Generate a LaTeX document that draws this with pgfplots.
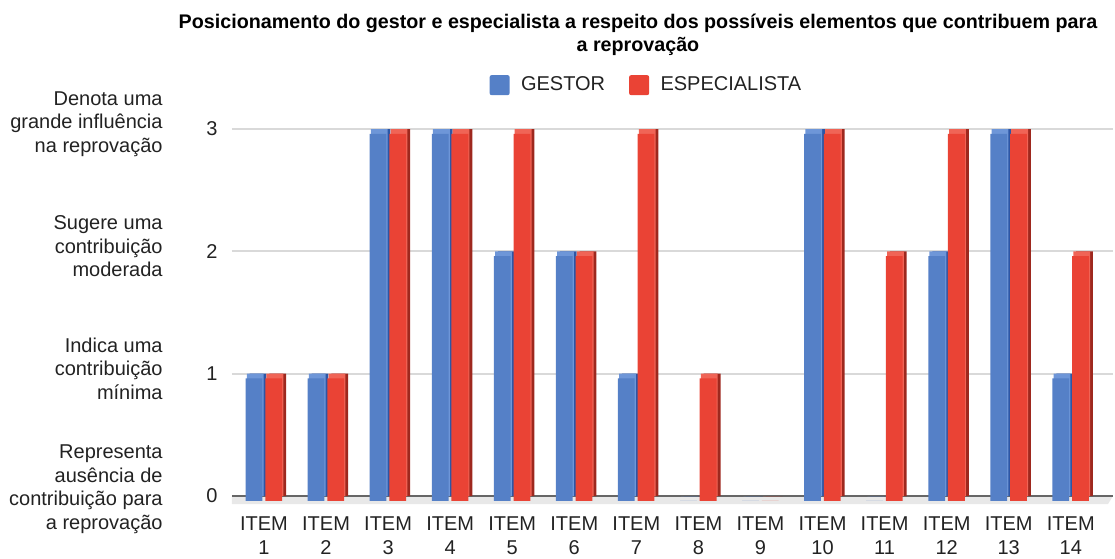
\documentclass[border=0pt]{standalone}
\usepackage{fontspec}
\setmainfont{Liberation Sans}
\usepackage{pgfplots}
\usepackage{pgfplotstable}
\pgfplotsset{compat=1.18}
\definecolor{gblue}{RGB}{85,128,199}
\definecolor{gbluetop}{RGB}{110,150,216}
\definecolor{gblueside}{RGB}{45,86,165}
\definecolor{ered}{RGB}{234,67,53}
\definecolor{eredtop}{RGB}{240,100,86}
\definecolor{eredside}{RGB}{158,40,30}
\definecolor{txt}{RGB}{34,34,34}
\pgfplotstableread{
item g e
1 1 1
2 1 1
3 3 3
4 3 3
5 2 3
6 2 2
7 1 3
8 0 1
9 0 0
10 3 3
11 0 2
12 2 3
13 3 3
14 1 2
}\data
\begin{document}
\begin{tikzpicture}[font=\fontsize{10}{11.75}\selectfont, text=txt]
\begin{axis}[name=ax, scale only axis, width=440.5pt, height=195.7pt,
  xmin=0.485, xmax=14.68, ymin=-0.1, ymax=3.1,
  axis line style={draw=none}, major tick length=0pt,
  ytick={0,1,2,3}, ymajorgrids, grid style={line width=1pt, color=black!15},
  xtick={1,...,14},
  xticklabels={{ITEM\\1},{ITEM\\2},{ITEM\\3},{ITEM\\4},{ITEM\\5},{ITEM\\6},{ITEM\\7},{ITEM\\8},{ITEM\\9},{ITEM\\10},{ITEM\\11},{ITEM\\12},{ITEM\\13},{ITEM\\14}},
  xticklabel style={align=center, inner sep=0pt, yshift=-4.2pt, font=\fontsize{10}{12}\selectfont, text=txt},
  yticklabel style={inner sep=0pt, xshift=-7pt, font=\fontsize{10}{11.75}\selectfont, text=txt},
  /pgf/number format/assume math mode=true,
  ybar, bar width=8.4pt,
  legend style={at={(0.4716,1.081)}, anchor=center, draw=none, fill=none, legend columns=2,
     font=\fontsize{10}{11.75}\selectfont, text=txt,
     /tikz/every even column/.append style={column sep=10pt}},
  legend image code/.code={\fill[#1, rounded corners=1pt] (0pt,-5pt) rectangle (10pt,5pt); \path (13.7pt,0pt);},
  clip=false,
]
\addlegendimage{fill=gblue, draw=none}
\addlegendentry{GESTOR}
\addlegendimage{fill=ered, draw=none}
\addlegendentry{ESPECIALISTA}
\fill[black!9] (axis cs:0.485,0) -- (axis cs:14.68,0) -- ([yshift=-4pt]axis cs:14.6,0) -- ([yshift=-4pt]axis cs:0.485,0) -- cycle;
\draw[black!60, line width=0.7pt] (axis cs:0.485,0) -- (axis cs:14.68,0);
% GESTOR
\addplot[forget plot, fill=gblueside, draw=none, bar shift=-3.0pt] table[x=item, y=g] {\data};
\addplot[forget plot, fill=gbluetop, draw=none, bar shift=-4.4pt] table[x=item, y=g] {\data};
\addplot[forget plot, fill=gblue, draw=none, bar shift=-5.0pt, yshift=-2.4pt] table[x=item, y=g] {\data};
% ESPECIALISTA
\addplot[forget plot, fill=eredside, draw=none, bar shift=6.85pt] table[x=item, y=e] {\data};
\addplot[forget plot, fill=eredtop, draw=none, bar shift=5.45pt] table[x=item, y=e] {\data};
\addplot[forget plot, fill=ered, draw=none, bar shift=4.85pt, yshift=-2.4pt] table[x=item, y=e] {\data};
% descriptive labels
\node[anchor=east, align=right, inner sep=0pt] at ([xshift=-34.5pt, yshift=2.5pt]axis cs:0.485,3) {Denota uma\\grande influência\\na reprovação};
\node[anchor=east, align=right, inner sep=0pt] at ([xshift=-34.5pt, yshift=2.5pt]axis cs:0.485,2) {Sugere uma\\contribuição\\moderada};
\node[anchor=east, align=right, inner sep=0pt] at ([xshift=-34.5pt, yshift=2.5pt]axis cs:0.485,1) {Indica uma\\contribuição\\mínima};
\node[anchor=east, align=right, inner sep=0pt] at ([xshift=-34.5pt, yshift=3.5pt]axis cs:0.485,0) {Representa\\ausência de\\contribuição para\\a reprovação};
\end{axis}
\coordinate (O) at ([xshift=-116pt, yshift=-24.88pt]ax.south west);
\node[anchor=north, inner sep=0pt, align=center, font=\bfseries\fontsize{9.85}{11.5}\selectfont, text=black]
  at ([xshift=319pt, yshift=272.35pt]O) {Posicionamento do gestor e especialista a respeito dos possíveis elementos que contribuem para\\a reprovação};
\pgfresetboundingbox
\path (O) rectangle ([xshift=557.5pt, yshift=279pt]O);
\end{tikzpicture}
\end{document}
